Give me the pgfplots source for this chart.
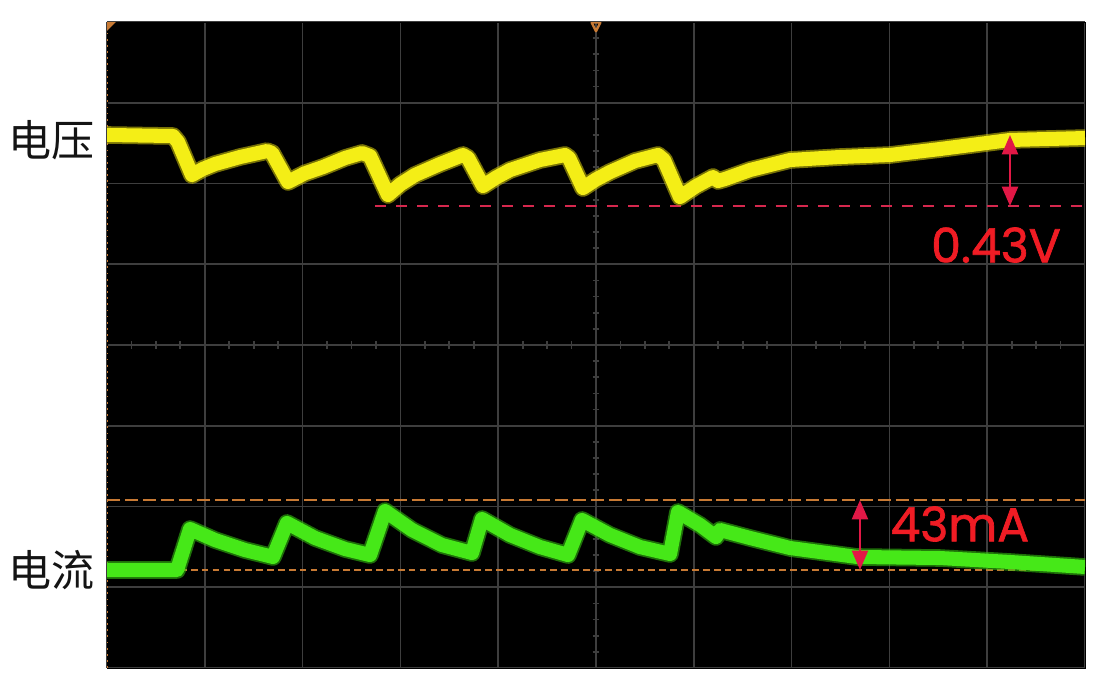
\documentclass[border=0pt]{standalone}
\usepackage{fontspec}
\setmainfont{Poppins}[FakeBold=1.4]
\newfontfamily\cjk{Noto Sans CJK SC}
\usepackage{pgfplots}
\pgfplotsset{compat=1.18}
\usetikzlibrary{arrows.meta}
\definecolor{scopegrid}{RGB}{62,62,62}
\definecolor{ytrace}{RGB}{244,238,22}
\definecolor{yhalo}{RGB}{200,190,10}
\definecolor{gtrace}{RGB}{70,232,24}
\definecolor{ghalo}{RGB}{50,185,15}
\definecolor{cursor}{RGB}{200,122,52}
\definecolor{mred}{RGB}{240,28,36}
\definecolor{arrowred}{RGB}{226,24,70}
\definecolor{dashred}{RGB}{214,40,78}
\begin{document}
\begin{tikzpicture}[x=1cm,y=1cm]
\fill[white] (-2.14,-0.52) rectangle (19.86,13.36);
\useasboundingbox (-2.14,-0.52) rectangle (19.86,13.36);
\begin{axis}[at={(0,0)}, anchor=south west, scale only axis,
  width=19.56cm, height=12.92cm,
  xmin=0, xmax=10, ymin=0, ymax=8,
  axis background/.style={fill=black},
  axis line style={draw=black},
  xtick={0,...,10}, ytick={0,...,8},
  xticklabels={}, yticklabels={},
  major tick length=0pt,
  grid=major,
  major grid style={scopegrid, line width=0.9pt},
  clip=true]
% centre-line minor ticks
\pgfplotsinvokeforeach{1,...,39}{\draw[scopegrid, line width=1pt] (axis cs:{#1/4},3.955) -- (axis cs:{#1/4},4.045);}
\pgfplotsinvokeforeach{1,...,39}{\draw[scopegrid, line width=1pt] (axis cs:{4.965},{#1/5}) -- (axis cs:{5.035},{#1/5});}
% left edge marker
\draw[cursor, line width=1.2pt, dash pattern=on 1pt off 2.5pt] (axis cs:0.004,0) -- (axis cs:0.004,8);
% cursors
\addplot[cursor, line width=1.5pt, dash pattern=on 7.4pt off 2.8pt] coordinates {(0,2.080) (10,2.080)};
\addplot[cursor, line width=1.2pt, dash pattern=on 3.8pt off 2.4pt] coordinates {(0.746,1.214) (10,1.214)};
\addplot[dashred, line width=1.6pt, dash pattern=on 6.3pt off 5.7pt] coordinates {(2.740,5.721) (10,5.721)};
% voltage trace
\pgfplotstableread{
x y
0 6.601
0.675 6.588
0.726 6.514
0.869 6.105
0.98 6.180
1.104 6.241
1.360 6.328
1.636 6.402
1.687 6.378
1.851 6.019
2.02 6.125
2.209 6.204
2.434 6.316
2.607 6.378
2.689 6.340
2.873 5.858
3.00 5.990
3.149 6.105
3.405 6.241
3.640 6.353
3.691 6.316
3.845 5.969
3.98 6.075
4.121 6.167
4.427 6.291
4.683 6.353
4.724 6.316
4.867 5.944
5.00 6.050
5.143 6.142
5.399 6.279
5.634 6.353
5.695 6.291
5.859 5.833
6.02 5.965
6.196 6.080
6.247 6.031
6.319 6.056
6.575 6.167
6.984 6.291
7.495 6.328
8.006 6.353
8.517 6.427
9.233 6.539
10 6.563
}\voltage
\pgfplotstableread{
x y
0 1.214
0.716 1.214
0.849 1.721
1.104 1.585
1.411 1.461
1.697 1.375
1.840 1.796
2.127 1.610
2.434 1.474
2.689 1.399
2.843 1.944
3.119 1.709
3.425 1.523
3.732 1.424
3.834 1.845
4.121 1.647
4.427 1.498
4.714 1.399
4.857 1.833
5.143 1.647
5.450 1.498
5.757 1.412
5.838 1.932
6.063 1.771
6.227 1.622
6.268 1.709
6.575 1.610
6.984 1.486
7.669 1.375
8.517 1.362
9.233 1.313
10 1.251
}\current
\addplot[yhalo, opacity=0.6, line width=10pt, line join=round] table {\voltage};
\addplot[ytrace, line width=8pt, line join=round] table {\voltage};
\addplot[ghalo, opacity=0.6, line width=10pt, line join=round] table {\current};
\addplot[gtrace, line width=8pt, line join=round] table {\current};
% measurement arrows
\draw[arrowred, line width=1.6pt, {Triangle[length=11pt,width=9pt]}-{Triangle[length=11pt,width=9pt]}] (axis cs:9.233,6.601) -- (axis cs:9.233,5.721);
\draw[arrowred, line width=1.6pt, {Triangle[length=11pt,width=9pt]}-{Triangle[length=11pt,width=9pt]}] (axis cs:7.699,2.080) -- (axis cs:7.699,1.214);
\node[text=mred, font=\fontsize{27}{27}\selectfont] at (axis cs:9.09,5.238) {0.43V};
\node[text=mred, font=\fontsize{27}{27}\selectfont] at (axis cs:8.72,1.783) {43mA};
% trigger markers
\fill[cursor] (axis cs:0,8) -- ++(5pt,0) -- ++(-5pt,-5pt) -- cycle;
\draw[cursor, line width=1.3pt, line join=round] (axis cs:4.955,7.995) -- (axis cs:5.045,7.995) -- (axis cs:5,7.885) -- cycle;
\end{axis}
\node[font=\cjk\fontsize{24.5}{24.5}\selectfont, text=black!92] at (-1.10,10.56) {电压};
\node[font=\cjk\fontsize{24.5}{24.5}\selectfont, text=black!92] at (-1.10,1.96) {电流};
\end{tikzpicture}
\end{document}
